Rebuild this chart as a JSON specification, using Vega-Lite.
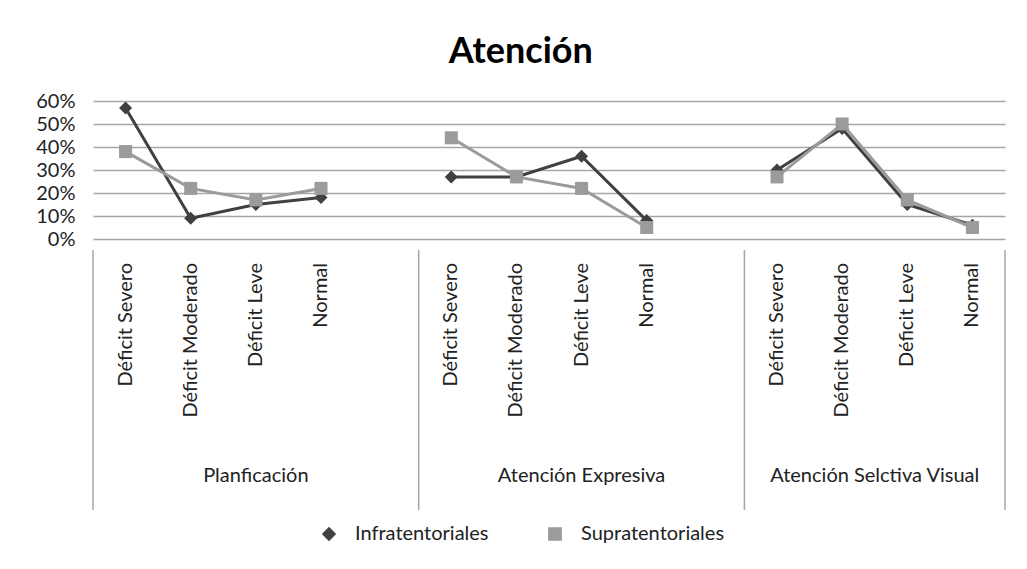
{
  "$schema": "https://vega.github.io/schema/vega-lite/v6.json",
  "padding": {"left": 35, "top": 34, "right": 20, "bottom": 10},
  "background": "white",
  "title": {"text": "Atención", "fontSize": 36, "font": "Lato", "fontWeight": "bold", "color": "#000000", "anchor": "middle", "offset": 20},
  "config": {
    "font": "Lato",
    "view": {"stroke": null},
    "text": {"font": "Lato", "color": "#222222"}
  },
  "datasets": {
    "d": [
      {"g": "Planficación", "c": "Déficit Severo", "s": "Infratentoriales", "v": 0.57},
      {"g": "Planficación", "c": "Déficit Moderado", "s": "Infratentoriales", "v": 0.09},
      {"g": "Planficación", "c": "Déficit Leve", "s": "Infratentoriales", "v": 0.15},
      {"g": "Planficación", "c": "Normal", "s": "Infratentoriales", "v": 0.18},
      {"g": "Atención Expresiva", "c": "Déficit Severo", "s": "Infratentoriales", "v": 0.27},
      {"g": "Atención Expresiva", "c": "Déficit Moderado", "s": "Infratentoriales", "v": 0.27},
      {"g": "Atención Expresiva", "c": "Déficit Leve", "s": "Infratentoriales", "v": 0.36},
      {"g": "Atención Expresiva", "c": "Normal", "s": "Infratentoriales", "v": 0.08},
      {"g": "Atención Selctiva Visual", "c": "Déficit Severo", "s": "Infratentoriales", "v": 0.30},
      {"g": "Atención Selctiva Visual", "c": "Déficit Moderado", "s": "Infratentoriales", "v": 0.48},
      {"g": "Atención Selctiva Visual", "c": "Déficit Leve", "s": "Infratentoriales", "v": 0.15},
      {"g": "Atención Selctiva Visual", "c": "Normal", "s": "Infratentoriales", "v": 0.06},
      {"g": "Planficación", "c": "Déficit Severo", "s": "Supratentoriales", "v": 0.38},
      {"g": "Planficación", "c": "Déficit Moderado", "s": "Supratentoriales", "v": 0.22},
      {"g": "Planficación", "c": "Déficit Leve", "s": "Supratentoriales", "v": 0.17},
      {"g": "Planficación", "c": "Normal", "s": "Supratentoriales", "v": 0.22},
      {"g": "Atención Expresiva", "c": "Déficit Severo", "s": "Supratentoriales", "v": 0.44},
      {"g": "Atención Expresiva", "c": "Déficit Moderado", "s": "Supratentoriales", "v": 0.27},
      {"g": "Atención Expresiva", "c": "Déficit Leve", "s": "Supratentoriales", "v": 0.22},
      {"g": "Atención Expresiva", "c": "Normal", "s": "Supratentoriales", "v": 0.05},
      {"g": "Atención Selctiva Visual", "c": "Déficit Severo", "s": "Supratentoriales", "v": 0.27},
      {"g": "Atención Selctiva Visual", "c": "Déficit Moderado", "s": "Supratentoriales", "v": 0.50},
      {"g": "Atención Selctiva Visual", "c": "Déficit Leve", "s": "Supratentoriales", "v": 0.17},
      {"g": "Atención Selctiva Visual", "c": "Normal", "s": "Supratentoriales", "v": 0.05}
    ]
  },
  "data": {"name": "d"},
  "transform": [{"calculate": "datum.g + '|' + datum.c", "as": "k"}],
  "resolve": {"scale": {"x": "shared"}},
  "spacing": 0,
  "vconcat": [
    {
      "width": 912,
      "height": 138,
      "encoding": {
        "x": {
          "field": "k", "type": "nominal",
          "scale": {
            "domain": [
              "Planficación|Déficit Severo", "Planficación|Déficit Moderado", "Planficación|Déficit Leve", "Planficación|Normal", "Planficación|",
              "Atención Expresiva|Déficit Severo", "Atención Expresiva|Déficit Moderado", "Atención Expresiva|Déficit Leve", "Atención Expresiva|Normal", "Atención Expresiva|",
              "Atención Selctiva Visual|Déficit Severo", "Atención Selctiva Visual|Déficit Moderado", "Atención Selctiva Visual|Déficit Leve", "Atención Selctiva Visual|Normal"
            ],
            "paddingInner": 0, "paddingOuter": 0
          },
          "axis": null
        },
        "y": {
          "field": "v", "type": "quantitative",
          "scale": {"domain": [0, 0.6], "nice": false},
          "axis": {
            "title": null, "format": ".0%", "values": [0, 0.1, 0.2, 0.3, 0.4, 0.5, 0.6],
            "domain": false, "ticks": false, "grid": true, "gridColor": "#a6a6a6", "gridWidth": 1.5,
            "labelFontSize": 20, "labelFont": "Lato", "labelColor": "#222222", "labelPadding": 18
          }
        },
        "color": {
          "field": "s", "type": "nominal",
          "scale": {"domain": ["Infratentoriales", "Supratentoriales"], "range": ["#404040", "#9b9b9b"]},
          "legend": {
            "title": null, "orient": "none", "direction": "horizontal", "legendX": 226, "legendY": 423,
            "labelFontSize": 20, "labelFont": "Lato", "labelColor": "#222222",
            "symbolSize": 150, "labelOffset": 16, "columnPadding": 56
          }
        }
      },
      "layer": [
        {"mark": {"type": "line", "strokeWidth": 3}, "encoding": {"detail": {"field": "g"}}},
        {
          "mark": {"type": "point", "filled": true, "opacity": 1, "size": 170},
          "encoding": {
            "shape": {"field": "s", "type": "nominal", "scale": {"domain": ["Infratentoriales", "Supratentoriales"], "range": ["diamond", "square"]}, "legend": null}
          }
        }
      ]
    },
    {
      "width": 912,
      "height": 260,
      "layer": [
        {
          "transform": [{"filter": "datum.s == 'Infratentoriales' && datum.c == 'Déficit Severo'"}],
          "mark": {"type": "rule", "color": "#a6a6a6", "strokeWidth": 1.5},
          "encoding": {"x": {"field": "k", "type": "nominal", "bandPosition": 0, "axis": null}}
        },
        {
          "transform": [{"filter": "datum.s == 'Infratentoriales' && datum.g == 'Atención Selctiva Visual' && datum.c == 'Normal'"}],
          "mark": {"type": "rule", "color": "#a6a6a6", "strokeWidth": 1.5},
          "encoding": {"x": {"field": "k", "type": "nominal", "bandPosition": 1, "axis": null}}
        },
        {
          "transform": [{"filter": "datum.s == 'Infratentoriales'"}],
          "mark": {"type": "text", "angle": 270, "align": "right", "baseline": "middle", "fontSize": 20, "font": "Lato", "color": "#222222"},
          "encoding": {
            "x": {"field": "k", "type": "nominal", "axis": null},
            "y": {"datum": 0.95, "type": "quantitative", "scale": {"domain": [0, 1], "nice": false}, "axis": null},
            "text": {"field": "c"}
          }
        },
        {
          "transform": [{"filter": "datum.s == 'Infratentoriales' && datum.c == 'Déficit Leve' && datum.g != 'Atención Selctiva Visual'"}],
          "mark": {"type": "text", "align": "center", "baseline": "middle", "fontSize": 20, "font": "Lato", "color": "#222222"},
          "encoding": {
            "x": {"field": "k", "type": "nominal", "axis": null},
            "y": {"datum": 0.13, "type": "quantitative", "axis": null},
            "text": {"field": "g"}
          }
        },
        {
          "transform": [{"filter": "datum.s == 'Infratentoriales' && datum.c == 'Déficit Moderado' && datum.g == 'Atención Selctiva Visual'"}],
          "mark": {"type": "text", "align": "center", "baseline": "middle", "fontSize": 20, "font": "Lato", "color": "#222222"},
          "encoding": {
            "x": {"field": "k", "type": "nominal", "bandPosition": 1, "axis": null},
            "y": {"datum": 0.13, "type": "quantitative", "axis": null},
            "text": {"field": "g"}
          }
        }
      ]
    }
  ]
}
